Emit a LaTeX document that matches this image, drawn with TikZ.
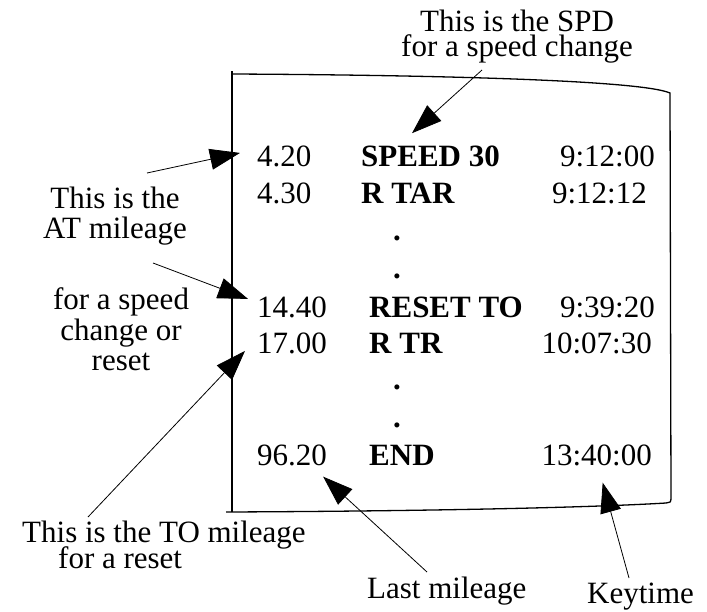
\documentclass[tikz,border=0pt]{standalone}
\usepackage{fontspec}
\setmainfont{Liberation Serif}
\usetikzlibrary{arrows.meta}

\begin{document}
\begin{tikzpicture}[x=1pt,y=-1pt,
  entry/.style={inner sep=0pt,font=\fontsize{31}{37}\selectfont},
  note/.style={inner sep=0pt,align=center,font=\fontsize{31}{37}\selectfont},
  paper/.style={line width=1.3pt},
  pointer/.style={line width=0.8pt,-{Triangle[length=30pt,width=21pt]}}]
  \useasboundingbox (0,0) rectangle (707,611);

  % Sheet
  \draw[paper] (232,71) -- (232,512);
  \draw[paper] (232,74) .. controls (430,75) and (640,80) .. (670,93) -- (671,499)
    .. controls (671,502) .. (666,503) .. controls (600,507) and (450,511) .. (226,512);

  % Row 1
  \node[entry,anchor=base west] (m1) at (257,166) {4.20};
  \node[entry,anchor=base west] (ev1) at (361,166) {\textbf{SPEED 30}};
  \node[entry,anchor=base east] (kt1) at (655,166) {9:12:00};

  % Row 2
  \node[entry,anchor=base west] (m2) at (257,203) {4.30};
  \node[entry,anchor=base west] (ev2) at (361,203) {\textbf{R TAR}};
  \node[entry,anchor=base east] (kt2) at (647,203) {9:12:12};

  \node[entry,anchor=base] (d1) at (397,240) {\textbf{.}};
  \node[entry,anchor=base] (d2) at (397,278) {\textbf{.}};

  % Row 3
  \node[entry,anchor=base west] (m3) at (257,317) {14.40};
  \node[entry,anchor=base west] (ev3) at (369,317) {\textbf{RESET TO}};
  \node[entry,anchor=base east] (kt3) at (655,317) {9:39:20};

  % Row 4
  \node[entry,anchor=base west] (m4) at (257,353) {17.00};
  \node[entry,anchor=base west] (ev4) at (369,353) {\textbf{R TR}};
  \node[entry,anchor=base east] (kt4) at (652,353) {10:07:30};

  \node[entry,anchor=base] (d3) at (397,389) {\textbf{.}};
  \node[entry,anchor=base] (d4) at (397,427) {\textbf{.}};

  % Row 5
  \node[entry,anchor=base west] (m5) at (257,465) {96.20};
  \node[entry,anchor=base west] (ev5) at (369,465) {\textbf{END}};
  \node[entry,anchor=base east] (kt5) at (652,465) {13:40:00};

  % Notes
  \node[note,anchor=north] (spdnote) at (517,10) {This is the SPD\\[-12pt]for a speed change};
  \node[note,anchor=north] (atnote) at (115,187) {This is the\\[-7pt]AT mileage};
  \node[note,anchor=north] (whynote) at (121,287) {for a speed\\[-6pt]change or\\[-7pt]reset};
  \node[note,align=left,anchor=north west] (tonote) at (22,521) {This is the TO mileage\\[-11pt]\hspace*{36pt}for a reset};
  \node[entry,anchor=base west] (lastnote) at (367,598) {Last mileage};
  \node[entry,anchor=base west] (keynote) at (587,603) {Keytime};

  \coordinate (spdtail) at (482,70);
  \coordinate (attail) at (147,173);
  \coordinate (resettail) at (153,263);
  \coordinate (totail) at (88,517);
  \coordinate (lasttail) at (427,572);
  \coordinate (keytail) at (629,578);

  % Pointers
  \draw[pointer] (spdtail) -- ([xshift=51pt,yshift=12pt]ev1.north west);
  \draw[pointer] (attail) -- ([xshift=-17pt,yshift=3pt]m1.west);
  \draw[pointer] (resettail) -- ([xshift=-9pt,yshift=8pt]m3.west);
  \draw[pointer] (totail) -- ([xshift=-12pt,yshift=-8pt]m4.west);
  \draw[pointer] (lasttail) -- ([xshift=-4pt,yshift=-11pt]m5.south east);
  \draw[pointer] (keytail) -- ([xshift=6pt,yshift=-17pt]kt5.south);
\end{tikzpicture}
\end{document}
